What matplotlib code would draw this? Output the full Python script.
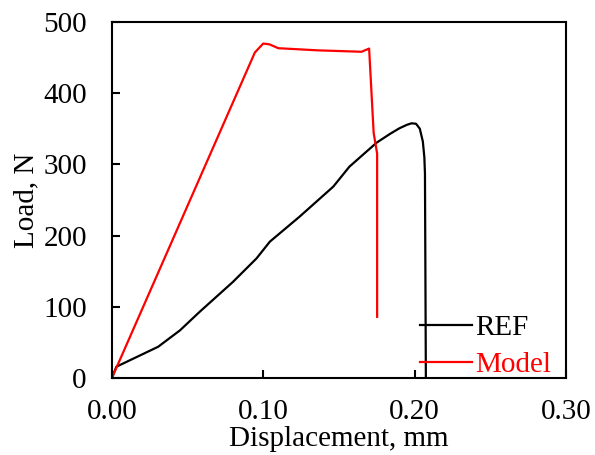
import matplotlib.pyplot as plt

plt.rcParams['font.family'] = ['Liberation Serif', 'DejaVu Serif']

# REF curve (test)
ref_x = [0.0, 0.003, 0.0306, 0.045, 0.058, 0.080, 0.0956, 0.1044, 0.124, 0.1463,
         0.157, 0.175, 0.184, 0.190, 0.195, 0.198, 0.2010, 0.2035, 0.2055, 0.2065,
         0.2069, 0.2075]
ref_y = [0, 16, 44, 67, 93, 135, 168, 191.5, 226.5, 268.7,
         296.8, 330.5, 343, 350.6, 355.5, 357.6, 357, 350, 332, 310,
         287, 0]

# Model curve
model_x = [0.0, 0.0945, 0.100, 0.104, 0.110, 0.136, 0.165, 0.170, 0.173, 0.1753, 0.1753]
model_y = [0, 457, 469.5, 468.5, 463, 460, 458, 462.5, 344, 315, 86]

fig = plt.figure(figsize=(5.95, 4.55), dpi=100)
ax = fig.add_axes([0.188, 0.169, 0.763, 0.783])

ax.plot(ref_x, ref_y, color='black', lw=1.6, label='REF')
ax.plot(model_x, model_y, color='red', lw=1.6, label='Model')

ax.set_xlim(0, 0.30)
ax.set_ylim(0, 500)
ax.set_xticks([0.0, 0.1, 0.2, 0.3])
ax.set_xticklabels(['0.00', '0.10', '0.20', '0.30'])
ax.set_yticks([0, 100, 200, 300, 400, 500])
ax.tick_params(direction='in', labelsize=21, width=1.5, length=5.5)
ax.tick_params(axis='x', pad=15)
ax.tick_params(axis='y', pad=18)
for s in ax.spines.values():
    s.set_linewidth(1.5)

ax.set_xlabel('Displacement, mm', fontsize=21, labelpad=1)
ax.set_ylabel('Load, N', fontsize=21, labelpad=3)

leg = ax.legend(loc='lower left', bbox_to_anchor=(0.678, 0.0), frameon=False,
                fontsize=21, handlelength=1.8, handletextpad=0.1, labelspacing=0.35,
                borderpad=0, borderaxespad=0)
for txt, ln in zip(leg.get_texts(), leg.get_lines()):
    txt.set_color(ln.get_color())

fig.savefig('out.png', dpi=100)
